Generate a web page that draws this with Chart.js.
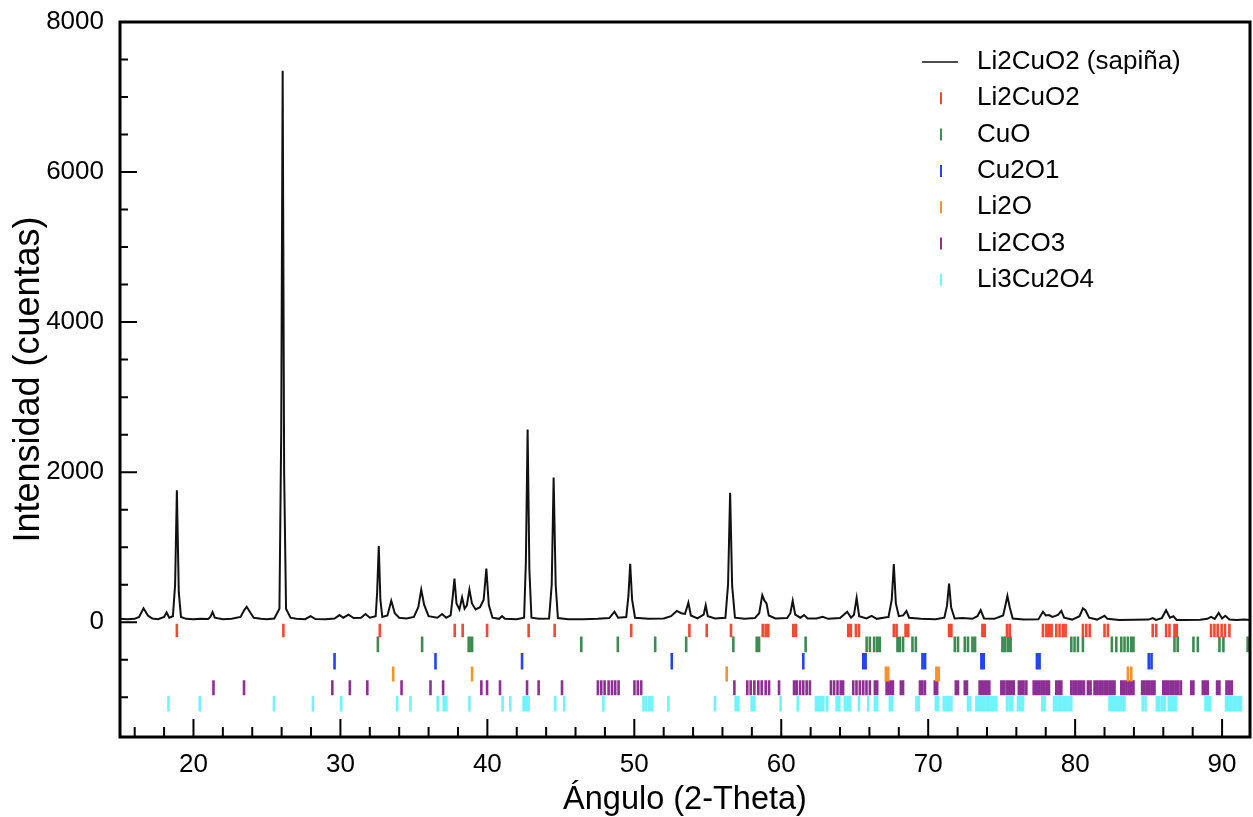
<!DOCTYPE html>
<html>
<head>
<meta charset="utf-8">
<script src="https://cdn.jsdelivr.net/npm/chart.js@4.4.1/dist/chart.umd.min.js"></script>
<style>
html,body{margin:0;padding:0;background:#fff;}
#caja{width:1253px;height:817px;}
</style>
</head>
<body>
<div id="caja"><canvas id="grafica"></canvas></div>
<script>
const angulo = [15.0,15.5,16.0,16.3,16.6,16.9,17.2,17.6,18.0,18.17,18.35,18.6,18.75,18.87,19.0,19.15,19.5,20.0,20.5,21.0,
  21.15,21.3,21.45,22.0,22.6,23.2,23.45,23.62,23.8,24.1,24.6,25.0,25.5,25.85,25.97,26.07,26.17,26.3,26.6,27.0,
  27.6,27.97,28.3,29.0,29.6,29.94,30.2,30.55,30.9,31.4,31.71,32.0,32.4,32.5,32.61,32.72,32.85,33.2,33.46,33.7,
  34.0,34.5,35.0,35.3,35.5,35.7,36.0,36.6,36.92,37.2,37.5,37.65,37.76,37.9,38.1,38.28,38.45,38.6,38.78,38.95,
  39.2,39.5,39.75,39.93,40.1,40.35,40.8,41.0,41.2,42.0,42.5,42.62,42.74,42.86,43.0,43.5,44.2,44.38,44.51,44.65,
  44.8,45.5,46.5,47.5,48.3,48.65,48.9,49.45,49.6,49.72,49.85,50.05,51.0,52.0,52.5,52.89,53.2,53.45,53.68,53.85,
  54.3,54.72,54.86,55.0,55.5,56.2,56.38,56.52,56.66,56.85,57.5,58.2,58.5,58.71,58.85,59.0,59.15,59.6,60.4,60.62,
  60.78,60.95,61.3,61.55,61.8,62.4,62.82,63.2,64.0,64.49,64.75,64.95,65.13,65.3,65.8,66.15,66.5,67.3,67.52,67.66,
  67.8,68.0,68.3,68.52,68.7,69.5,70.5,71.1,71.28,71.42,71.56,71.8,72.35,73.0,73.35,73.57,73.8,74.5,75.1,75.25,
  75.39,75.55,75.75,76.5,77.5,77.81,78.0,78.22,78.45,78.67,78.85,79.06,79.25,79.8,80.3,80.53,80.7,80.95,81.5,82.0,
  82.2,83.0,84.0,85.0,85.28,85.5,85.9,86.19,86.45,86.69,86.9,87.5,88.5,89.0,89.25,89.5,89.77,90.0,90.22,90.5,
  91.0,91.5,92.0];
const intensidad = [45,40,45,70,185,90,50,40,70,130,60,80,500,1760,400,70,45,40,45,42,
  70,135,60,40,45,70,160,205,150,60,45,40,50,180,2500,7350,2000,180,60,45,
  40,80,42,40,50,95,60,100,55,60,110,60,80,400,1015,300,70,90,285,120,
  60,50,70,200,435,230,80,60,110,60,90,350,580,250,170,330,180,220,435,250,
  170,200,300,715,230,60,45,80,45,40,60,800,2570,700,60,45,50,500,1930,500,
  55,40,40,45,55,140,60,70,350,780,300,60,45,50,80,150,120,110,260,90,
  50,100,225,80,50,60,500,1725,480,60,45,55,120,360,290,250,90,50,55,120,
  285,100,60,95,50,50,72,45,55,140,60,100,325,80,50,85,45,70,300,775,
  250,80,90,150,60,45,40,60,220,515,200,50,55,45,80,160,50,45,90,220,
  350,200,50,35,40,140,90,95,70,85,100,150,60,35,80,185,160,60,35,85,
  45,30,32,35,55,30,55,160,60,80,30,30,32,45,70,45,125,50,85,35,
  30,35,30];

// Posiciones de referencia de cada fase (2-Theta)
const fases = ["Li2CuO2","CuO","Cu2O1","Li2O","Li2CO3","Li3Cu2O4"];
const posLi2CuO2 = [18.87,26.12,32.68,37.78,38.32,39.98,42.81,44.58,49.79,53.75,54.93,56.58,58.74,58.94,59.12,60.82,61.0,
  64.56,64.74,65.08,65.29,67.66,67.85,68.46,68.64,71.42,71.58,73.69,73.85,75.36,75.55,77.81,78.04,78.22,78.4,78.72,78.94,
  79.17,79.35,80.53,80.76,80.99,82.0,82.23,85.28,85.52,86.19,86.42,86.76,86.92,89.25,89.48,89.7,89.97,90.2,90.5];
const posCuO = [32.55,35.56,38.73,38.85,38.96,46.39,48.88,51.42,53.53,56.74,58.33,58.49,61.66,65.81,66.03,66.32,66.53,
  66.71,67.91,68.07,68.29,68.93,69.16,71.81,72.03,72.49,72.71,73.01,73.19,75.05,75.23,75.43,75.61,79.74,79.96,80.19,
  80.53,82.5,82.8,83.14,83.36,83.59,83.82,83.97,86.76,86.98,88.05,88.35,89.82,90.09,91.74];
const posCu2O1 = [29.6,36.47,42.36,52.55,61.5,65.58,65.74,69.61,69.79,73.62,73.78,77.4,77.58,85.01,85.2];
const posLi2O = [33.59,38.96,56.29,67.12,67.28,70.56,70.72,83.59,83.82];
const posLi2CO3 = [21.36,23.44,29.45,30.64,31.83,34.16,36.13,36.99,39.59,39.98,40.86,42.7,43.49,45.08,
  47.52,47.75,47.98,48.25,48.48,48.7,48.93,50.01,50.24,50.47,56.81,57.69,57.92,58.17,58.44,58.67,58.94,59.17,59.85,
  60.87,61.05,61.28,61.5,61.73,61.95,63.38,63.6,63.83,64.05,64.21,64.9,65.12,65.35,65.58,65.8,66.03,66.37,66.53,
  67.17,67.32,67.48,67.6,68.14,68.29,69.44,69.59,69.78,70.45,70.61,71.88,72.03,72.49,72.64,73.5,73.67,73.83,73.98,
  74.16,74.98,75.14,75.33,75.5,75.66,75.82,76.17,76.33,76.49,76.68,77.18,77.35,77.52,77.7,77.87,78.05,78.22,78.72,
  78.9,79.06,79.74,79.92,80.08,80.26,80.42,80.6,80.87,81.05,81.32,81.49,81.67,81.83,82.01,82.17,82.35,82.51,82.68,
  83.14,83.31,83.49,83.67,83.83,83.97,84.56,84.72,84.9,85.06,85.24,85.4,86.0,86.17,86.33,86.51,86.67,86.85,87.01,
  87.2,87.9,88.05,88.69,88.86,89.02,89.66,89.82,90.3,90.48,90.66];
const posLi3Cu2O4 = [18.3,20.43,25.48,28.13,30.06,33.86,34.77,36.62,37.03,37.21,38.78,41.04,41.56,42.47,42.63,42.81,
  44.62,45.23,47.9,50.63,50.82,51.02,51.2,52.32,55.49,56.9,57.08,57.99,58.17,59.96,61.12,62.36,62.52,62.69,62.86,
  63.13,63.77,63.95,64.33,64.51,64.69,65.29,65.92,66.37,66.53,67.39,67.55,69.2,69.36,70.52,70.67,71.06,71.24,71.4,
  71.58,72.71,72.87,73.28,73.45,73.62,73.78,73.96,74.12,74.3,74.46,74.64,75.36,75.55,75.73,76.11,76.28,76.45,77.77,
  77.92,78.56,78.72,78.9,79.06,79.24,79.4,79.58,79.74,82.34,82.51,82.68,82.85,83.02,83.19,83.36,84.6,84.79,85.56,
  85.73,85.92,86.09,86.37,86.53,86.7,86.87,88.87,89.03,89.19,90.27,90.44,90.6,90.78,90.95,91.12,91.29];

const ticksX = [20,30,40,50,60,70,80,90];
const ticksY = [0,2000,4000,6000,8000];

// estilo de cada fila de marcas
const colores = ["#f04a32","#3c8c52","#2244f2","#f5922f","#8e2f95","#6ff3fc"];
const filas = [[-20,-200],[-190,-400],[-410,-630],[-590,-790],[-775,-975],[-985,-1190]];
const posiciones = [posLi2CuO2,posCuO,posCu2O1,posLi2O,posLi2CO3,posLi3Cu2O4];

function marcas(lista, fila){
    const puntos = [];
    lista.forEach(p=>{
        puntos.push({x:p, y:fila[0]}, {x:p, y:fila[1]}, {x:p, y:null});
    });
    return puntos;
}

const datasets = [{
    label:"Li2CuO2 (sapiña)",
    data:angulo.map((a,i)=>({x:a, y:intensidad[i]})),
    borderColor:"#111",
    borderWidth:2,
    pointRadius:0,
    showLine:true,
    tension:0
}];

fases.forEach((nombre,i)=>{
    datasets.push({
        label:nombre,
        data:marcas(posiciones[i], filas[i]),
        borderColor:colores[i],
        borderWidth:2.6,
        pointRadius:0,
        showLine:true,
        spanGaps:false
    });
});

const fuente = "'Liberation Sans', Arial, Helvetica, sans-serif";

// marco, marcas de ejes hacia dentro y leyenda
const marco = {
    id:"marco",
    afterDraw(chart){
        const {ctx, chartArea:a, scales:{x, y}} = chart;
        ctx.save();
        ctx.strokeStyle = "#000";
        ctx.lineWidth = 2;
        ctx.beginPath();
        for(let v = 16; v <= 91; v += 2){
            const px = x.getPixelForValue(v);
            const largo = ticksX.includes(v) ? 18 : 10;
            ctx.moveTo(px, a.bottom);
            ctx.lineTo(px, a.bottom - largo);
        }
        for(let v = -1000; v < 8000; v += 500){
            const py = y.getPixelForValue(v);
            const largo = ticksY.includes(v) ? 17 : 8;
            ctx.moveTo(a.left, py);
            ctx.lineTo(a.left + largo, py);
        }
        ctx.stroke();

        ctx.lineWidth = 3;
        ctx.strokeRect(a.left, a.top, a.right - a.left, a.bottom - a.top);

        // Leyenda
        ctx.font = "26px " + fuente;
        ctx.textBaseline = "middle";
        ctx.fillStyle = "#000";
        chart.data.datasets.forEach((ds,i)=>{
            const yy = 62 + i*36.3;
            ctx.strokeStyle = ds.borderColor;
            ctx.beginPath();
            if(i === 0){
                ctx.lineWidth = 1.5;
                ctx.moveTo(922, yy);
                ctx.lineTo(958, yy);
            }else{
                ctx.lineWidth = 2;
                ctx.moveTo(941, yy - 6);
                ctx.lineTo(941, yy + 6);
            }
            ctx.stroke();
            ctx.fillText(ds.label, 977, yy);
        });
        ctx.restore();
    }
};

new Chart(document.getElementById("grafica"), {
    type:"scatter",
    data:{datasets:datasets},
    options:{
        responsive:true,
        maintainAspectRatio:false,
        animation:false,
        layout:{padding:{top:22, right:3, left:0, bottom:0}},
        plugins:{
            legend:{display:false},
            tooltip:{enabled:false}
        },
        scales:{
            x:{
                type:"linear",
                min:15,
                max:91.9,
                afterBuildTicks:s=>{ s.ticks = ticksX.map(v=>({value:v})); },
                afterFit:s=>{ s.height = 80; s.paddingLeft = 0; s.paddingRight = 0; },
                grid:{display:false, drawTicks:false},
                border:{display:false},
                ticks:{color:"#000", padding:12, font:{size:26, family:fuente}, maxRotation:0, callback:v=>String(v)},
                title:{display:true, text:"Ángulo (2-Theta)", color:"#000", font:{size:32.5, family:fuente}, padding:{top:0, bottom:-3}}
            },
            y:{
                type:"linear",
                min:-1530,
                max:8000,
                afterBuildTicks:s=>{ s.ticks = ticksY.map(v=>({value:v})); },
                afterFit:s=>{ s.width = 120; s.paddingTop = 0; s.paddingBottom = 0; },
                grid:{display:false, drawTicks:false},
                border:{display:false},
                ticks:{color:"#000", padding:16, font:{size:26, family:fuente}, callback:v=>String(v)},
                title:{display:true, text:"Intensidad (cuentas)", color:"#000", font:{size:36, family:fuente}, padding:{top:7, bottom:0}}
            }
        }
    },
    plugins:[marco]
});
</script>
</body>
</html>
